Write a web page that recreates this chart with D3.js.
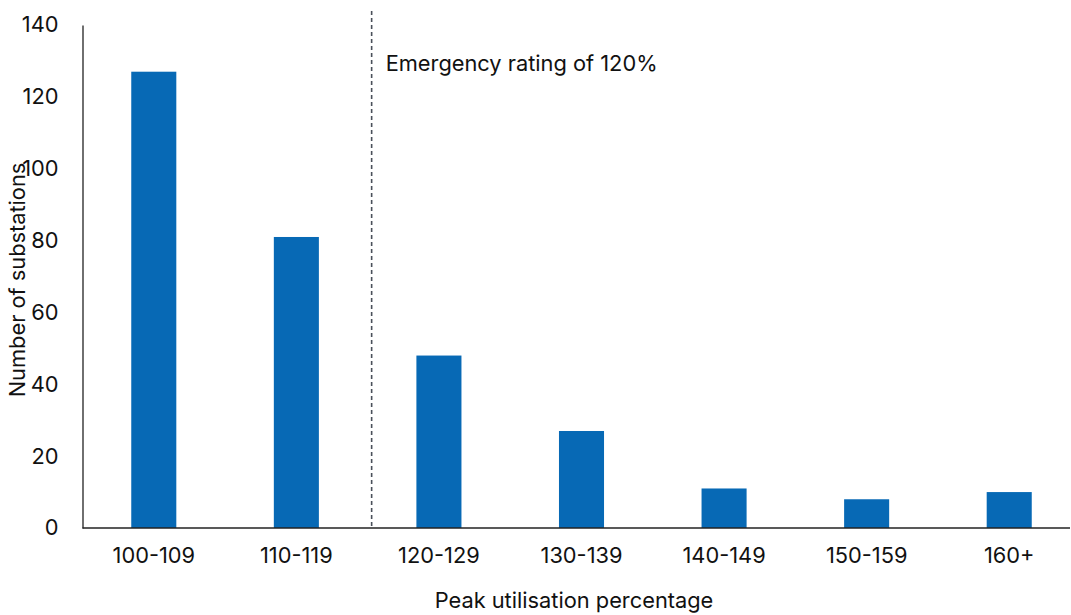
<!DOCTYPE html>
<html>
<head>
<meta charset="utf-8">
<script src="https://cdn.jsdelivr.net/npm/d3@7"></script>
<style>
  html, body { margin: 0; padding: 0; background: #fff; }
  svg { display: block; font-family: Inter, "Noto Sans", sans-serif; }
</style>
</head>
<body>
<svg id="chart" width="1071" height="615"></svg>
<script>
// Substations grouped by peak utilisation band
const categories = ["100-109", "110-119", "120-129", "130-139", "140-149", "150-159", "160+"];
const counts = [127, 81, 48, 27, 11, 8, 10];
const yTicks = [0, 20, 40, 60, 80, 100, 120, 140];
const emergencyLabel = "Emergency rating of 120%";

const svg = d3.select("#chart");
const plot = { left: 82.5, right: 1080.5, top: 25, bottom: 528 };
const fontSize = 21.8;

const x = d3.scaleBand()
  .domain(categories)
  .range([plot.left, plot.right])
  .paddingInner(0.684)
  .paddingOuter(0.342);

const y = d3.scaleLinear()
  .domain([0, 140])
  .range([plot.bottom, plot.top]);

// Bars
svg.append("g")
  .selectAll("rect")
  .data(counts)
  .join("rect")
  .attr("x", (d, i) => x(categories[i]))
  .attr("width", x.bandwidth())
  .attr("y", d => y(d))
  .attr("height", d => y(0) - y(d))
  .attr("fill", "#0769b5");

// Y axis
const yAxis = svg.append("g")
  .attr("transform", `translate(${plot.left},0)`)
  .call(d3.axisLeft(y).tickValues(yTicks).tickSize(0).tickPadding(24));
yAxis.select(".domain").attr("stroke", "#222").attr("stroke-width", 1.3);
yAxis.selectAll("text")
  .attr("font-size", fontSize)
  .attr("fill", "#111")
  .attr("font-family", "Inter, 'Noto Sans', sans-serif");

// X axis
const xAxis = svg.append("g")
  .attr("transform", `translate(0,${plot.bottom})`)
  .call(d3.axisBottom(x).tickSize(0).tickPadding(20));
xAxis.select(".domain").attr("d", `M${plot.left},0H1070`).attr("stroke", "#222").attr("stroke-width", 1.3);
xAxis.selectAll("text")
  .attr("font-size", fontSize)
  .attr("fill", "#111")
  .attr("font-family", "Inter, 'Noto Sans', sans-serif");

// Emergency rating marker between the 110-119 and 120-129 bands
const markerX = x("120-129") - (x.step() - x.bandwidth()) / 2 + 4;
svg.append("line")
  .attr("x1", markerX).attr("x2", markerX)
  .attr("y1", 11).attr("y2", plot.bottom)
  .attr("stroke", "#4a505a")
  .attr("stroke-width", 1.6)
  .attr("stroke-dasharray", "4,3");

svg.append("text")
  .attr("x", markerX + 14)
  .attr("y", 71)
  .attr("font-size", fontSize)
  .attr("fill", "#111")
  .text(emergencyLabel);

// Axis titles
svg.append("text")
  .attr("transform", "translate(25,280) rotate(-90)")
  .attr("text-anchor", "middle")
  .attr("font-size", fontSize)
  .attr("fill", "#111")
  .text("Number of substations");

svg.append("text")
  .attr("x", 574)
  .attr("y", 608)
  .attr("text-anchor", "middle")
  .attr("font-size", fontSize)
  .attr("fill", "#111")
  .text("Peak utilisation percentage");
</script>
</body>
</html>
